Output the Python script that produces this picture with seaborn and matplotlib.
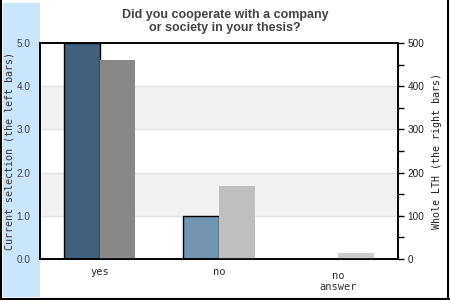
import matplotlib
matplotlib.use("Agg")
import matplotlib.pyplot as plt
import matplotlib.transforms as mtransforms
from matplotlib.patches import Rectangle
from matplotlib.lines import Line2D
from matplotlib.ticker import MultipleLocator
import seaborn as sns
import pandas as pd

categories = ["yes", "no", "no answer"]
tick_labels = ["yes", "no", "no\nanswer"]
selection = [5.0, 1.0, 0.0]
whole_lth = [460, 170, 15]
sel_colors = ["#41607e", "#7395b0", "#7395b0"]
lth_colors = ["#888888", "#bfbfbf", "#cccccc"]

title = "Did you cooperate with a company\nor society in your thesis?"
ylabel_left = "Current selection (the left bars)"
ylabel_right = "Whole LTH (the right bars)"
left_ticks = [0, 1, 2, 3, 4, 5]
right_ticks = [0, 100, 200, 300, 400, 500]

sns.set_theme(style="white")
plt.rcParams['font.family'] = ['DejaVu Sans']
tick_family = ["Liberation Sans", "DejaVu Sans"]

fig = plt.figure(figsize=(4.5, 3.0), dpi=100)
W, H = 450, 300

# left blue strip and frame
fig.patches.append(Rectangle((3 / W, 3 / H), 37 / W, 294 / H, transform=fig.transFigure,
                             facecolor="#c9e6fc", edgecolor="none", zorder=-5))
for (x0, y0, x1, y1) in [(0.8 / W, 0, 0.8 / W, 1), (0, 1.2 / H, 1, 1.2 / H), (1 - 1.8 / W, 0, 1 - 1.8 / W, 1)]:
    fig.lines.append(Line2D([x0, x1], [y0, y1], transform=fig.transFigure, color="black", lw=1.5))

ax1 = fig.add_axes([40 / W, 41 / H, 358 / W, 216 / H])
ax2 = ax1.twinx()

df_sel = pd.DataFrame({"category": categories, "value": selection, "series": "sel"})
df_lth = pd.DataFrame({"category": categories, "value": whole_lth, "series": "lth"})

ax1.axhspan(1, 2, color="#f2f2f2", zorder=0)
ax1.axhspan(3, 4, color="#f2f2f2", zorder=0)
for y in [1, 2, 3, 4]:
    ax1.axhline(y, color="#e2e2e2", lw=0.9, zorder=0.5)

sns.barplot(data=df_sel, x="category", y="value", hue="series", hue_order=["sel", "lth"],
            order=categories, dodge=True, width=0.6, ax=ax1, legend=False,
            edgecolor="black", linewidth=1.0, errorbar=None, zorder=2)
sns.barplot(data=df_lth, x="category", y="value", hue="series", hue_order=["sel", "lth"],
            order=categories, dodge=True, width=0.6, ax=ax2, legend=False,
            linewidth=0, errorbar=None, zorder=2)

for p, c in zip([p for p in ax1.patches if isinstance(p, Rectangle) and p.get_width() < 0.5], sel_colors):
    p.set_facecolor(c)
for p, c in zip([p for p in ax2.patches if isinstance(p, Rectangle) and p.get_width() < 0.5], lth_colors):
    p.set_facecolor(c)
    p.set_edgecolor("none")

ax1.set_xlim(-0.5, 2.5)
ax1.set_ylim(0, 5)
ax2.set_ylim(0, 500)

ax1.set_yticks(left_ticks)
ax1.set_yticklabels([f"{v:.1f}" for v in left_ticks], fontsize=7.2, color="#444444",
                    family=tick_family)
ax1.tick_params(axis="y", length=0, pad=7)
ax2.set_yticks(right_ticks)
ax2.set_yticklabels([str(v) for v in right_ticks], fontsize=7.2, color="#222222",
                    family=tick_family)
ax2.yaxis.set_minor_locator(MultipleLocator(50))
ax2.tick_params(axis="y", which="both", length=4, width=1, color="black", direction="out", right=True, pad=3)

ax1.set_xticks(range(len(categories)))
ax1.set_xticklabels(tick_labels, fontsize=7.5, family="DejaVu Sans Mono", color="#333333", linespacing=1.1)
ax1.tick_params(axis="x", length=0, pad=6)
for lbl in ax1.get_xticklabels():
    if "\n" in lbl.get_text():
        lbl.set_transform(lbl.get_transform() + mtransforms.ScaledTranslation(0, -3.5 / 100, fig.dpi_scale_trans))

ax1.set_xlabel("")
ax1.set_ylabel("")
ax2.set_ylabel("")

for ax in (ax1, ax2):
    for s in ax.spines.values():
        s.set_color("black")
        s.set_linewidth(1.2)
ax2.patch.set_visible(False)

fig.text(10 / W, 1 - 151 / H, ylabel_left, rotation=90, ha="center", va="center",
         fontsize=7.2, family="DejaVu Sans Mono", color="#333333")
fig.text(437 / W, 1 - 151 / H, ylabel_right, rotation=90, ha="center", va="center",
         fontsize=7.2, family="DejaVu Sans Mono", color="#222222")
fig.text(225 / W, 1 - 21.5 / H, title, ha="center", va="center", fontsize=9,
         family="Liberation Sans", fontweight="bold", color="#444444", linespacing=1.15)

fig.savefig("out.png", dpi=100)
